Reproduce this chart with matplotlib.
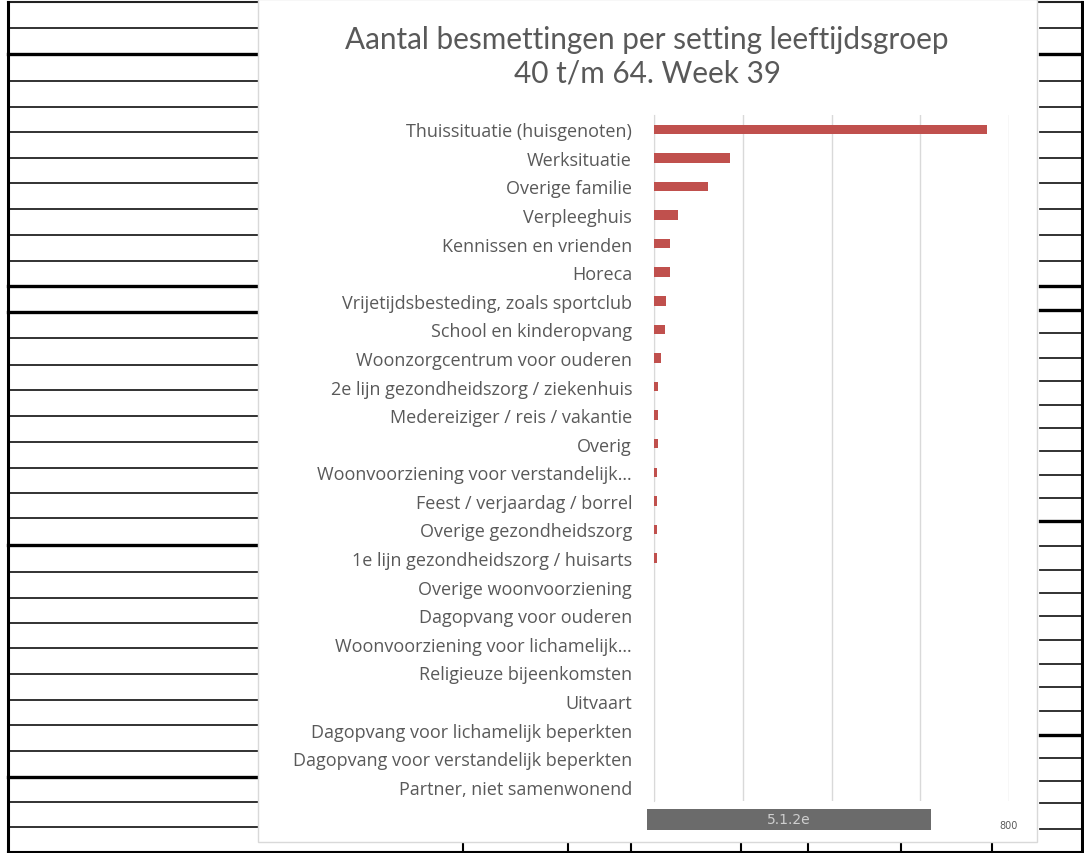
import numpy as np
import matplotlib.pyplot as plt
from matplotlib.patches import Rectangle

# --- data ---
categories = [
    "Thuissituatie (huisgenoten)",
    "Werksituatie",
    "Overige familie",
    "Verpleeghuis",
    "Kennissen en vrienden",
    "Horeca",
    "Vrijetijdsbesteding, zoals sportclub",
    "School en kinderopvang",
    "Woonzorgcentrum voor ouderen",
    "2e lijn gezondheidszorg / ziekenhuis",
    "Medereiziger / reis / vakantie",
    "Overig",
    "Woonvoorziening voor verstandelijk…",
    "Feest / verjaardag / borrel",
    "Overige gezondheidszorg",
    "1e lijn gezondheidszorg / huisarts",
    "Overige woonvoorziening",
    "Dagopvang voor ouderen",
    "Woonvoorziening voor lichamelijk…",
    "Religieuze bijeenkomsten",
    "Uitvaart",
    "Dagopvang voor lichamelijk beperkten",
    "Dagopvang voor verstandelijk beperkten",
    "Partner, niet samenwonend",
]
values = [750, 172, 121, 53, 35, 35, 26, 24, 16, 9, 9, 9, 5, 5, 5, 5,
          0, 0, 0, 0, 0, 0, 0, 0]
x_ticks = [0, 200, 400, 600, 800]

# spreadsheet rows behind the chart (pixel rows), thick ones marked separately
left_rows = [29, 82, 108, 133, 159, 184, 210, 236, 262, 339, 366, 391, 417,
             443, 469, 494, 519, 573, 599, 624, 649, 675, 701, 726, 752, 803, 828]
left_thick = [55, 287, 313, 546, 778]
right_rows = [29, 82, 108, 133, 159, 184, 210, 236, 262, 334, 359, 382, 406,
              429, 452, 476, 499, 547, 571, 594, 617, 641, 665, 688, 712, 759,
              782, 804, 830]
right_thick = [55, 287, 311, 522, 736]
bottom_cols = [463, 568, 631, 741, 808, 901, 992]

W, H = 1084, 854
fig = plt.figure(figsize=(W / 100, H / 100), dpi=100)

# --- background: spreadsheet grid ---
bg = fig.add_axes([0, 0, 1, 1])
bg.set_xlim(0, W)
bg.set_ylim(H, 0)
bg.axis("off")
for y in left_rows:
    bg.plot([8, 258], [y, y], color="#222222", lw=1.3)
for y in left_thick:
    bg.plot([8, 258], [y, y], color="black", lw=2.4)
for y in right_rows:
    bg.plot([1040, 1082], [y, y], color="#222222", lw=1.3)
for y in right_thick:
    bg.plot([1040, 1082], [y, y], color="black", lw=2.4)
for x in bottom_cols:
    bg.plot([x, x], [843, 853], color="black", lw=1.5)
bg.plot([8, 1082], [3, 3], color="#222222", lw=1.5)
bg.plot([8, 1082], [853, 853], color="black", lw=1.5)
bg.plot([8, 8], [3, 854], color="black", lw=2.2)
bg.plot([1082, 1082], [3, 854], color="black", lw=2.2)

# chart area (white card)
bg.add_patch(Rectangle((258, 0), 1037 - 258, 843, facecolor="white",
                       edgecolor="#d9d9d9", lw=1, zorder=5))

# --- title ---
fig.text(647 / W, 1 - 40 / H, "Aantal besmettingen per setting leeftijdsgroep",
         ha="center", va="center", fontsize=21.4, color="#595959", family="Lato")
fig.text(647 / W, 1 - 74 / H, "40 t/m 64. Week 39",
         ha="center", va="center", fontsize=21.4, color="#595959", family="Lato")

# --- bar chart ---
ax = fig.add_axes([654.3 / W, 1 - 802 / H, (1008.7 - 654.3) / W, 686 / H])
ax.set_zorder(6)
ax.patch.set_alpha(0)
y = np.arange(len(categories))
ax.barh(y, values, height=0.33, color="#c0504d", zorder=3)
ax.set_xlim(0, 800)
ax.set_ylim(len(categories) - 0.5, -0.5)
ax.set_yticks(y)
ax.set_yticklabels(categories, fontsize=13, color="#595959", family="Open Sans")
ax.set_xticks(x_ticks)
ax.set_xticklabels([str(v) for v in x_ticks], fontsize=7, color="#595959")
ax.tick_params(axis="y", length=0, pad=16)
ax.tick_params(axis="x", length=0, pad=14)
ax.grid(axis="x", color="#d9d9d9", lw=1, zorder=0)
for s in ["top", "right", "bottom"]:
    ax.spines[s].set_visible(False)
ax.spines["left"].set_color("#d9d9d9")

# grey box covering the lower axis labels
fig.patches.append(Rectangle((647 / W, 1 - 831 / H), (931 - 647) / W, 21 / H,
                             transform=fig.transFigure, facecolor="#6b6b6b",
                             edgecolor="none", zorder=10))
fig.text(789 / W, 1 - 820 / H, "5.1.2e", ha="center", va="center",
         fontsize=10, color="#cfcfcf", zorder=11)

fig.savefig("out.png", dpi=100)
